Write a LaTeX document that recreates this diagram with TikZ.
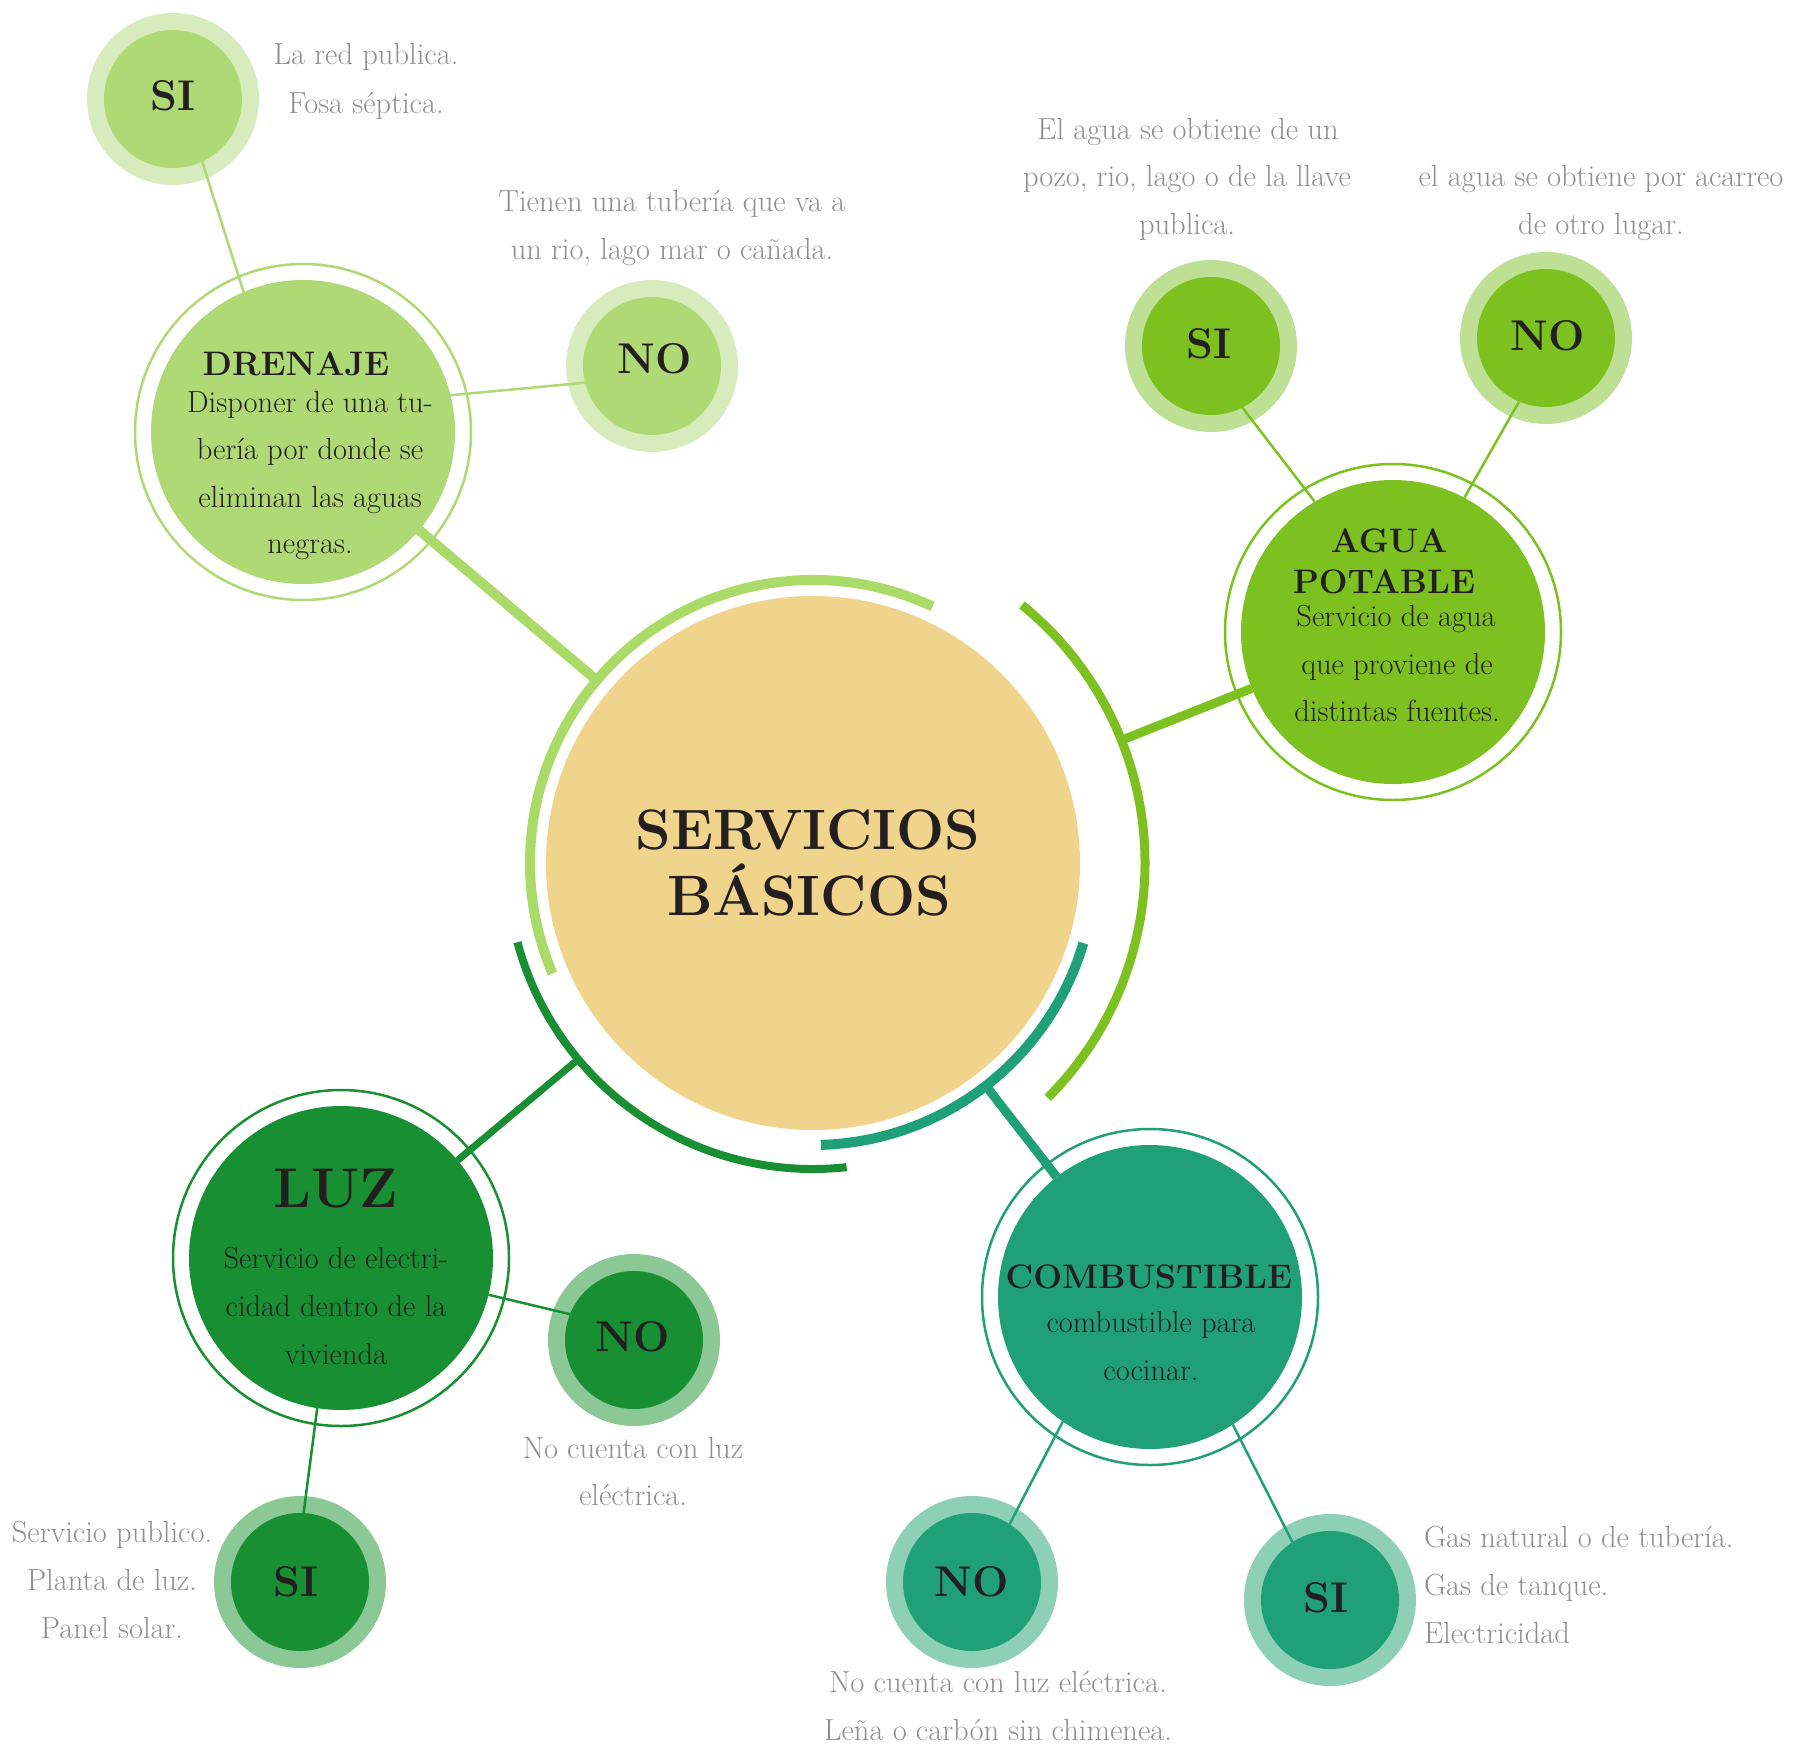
\documentclass[tikz,border=0pt]{standalone}
\usetikzlibrary{calc}
\definecolor{cenc}{HTML}{F0D48C}
\definecolor{drenc}{HTML}{AED974}
\definecolor{drenh}{HTML}{D6ECBC}
\definecolor{drenarc}{HTML}{AADB68}
\definecolor{aguac}{HTML}{7DC121}
\definecolor{aguah}{HTML}{BEE094}
\definecolor{luzc}{HTML}{178F32}
\definecolor{luzh}{HTML}{8CC896}
\definecolor{combc}{HTML}{20A077}
\definecolor{combh}{HTML}{8ECFB8}
\definecolor{greyc}{HTML}{8F8F8F}
\definecolor{darkc}{HTML}{231F20}
\begin{document}
\begin{tikzpicture}[x=1pt,y=-1pt,
  greytxt/.style={text=greyc, font=\fontsize{30.5}{34}\selectfont, anchor=base, inner sep=0, outer sep=0},
  bodytxt/.style={text=darkc, font=\fontsize{30.5}{34}\selectfont, anchor=base, inner sep=0, outer sep=0},
  titletxt/.style={text=darkc, font=\bfseries\fontsize{34}{38}\selectfont, anchor=base, inner sep=0, outer sep=0},
  yesno/.style={text=darkc, font=\bfseries\fontsize{43}{48}\selectfont, anchor=base, inner sep=0, outer sep=0},
  bigtxt/.style={text=darkc, font=\bfseries\fontsize{57}{62}\selectfont, anchor=base, inner sep=0, outer sep=0},
  maindisc/.style={circle, fill=#1, minimum size=304pt, inner sep=0, outer sep=0},
  smalldisc/.style 2 args={circle, fill=#1, minimum size=138pt, inner sep=0, outer sep=0, preaction={draw=#2, line width=34pt}},
  ringline/.style={draw=#1, line width=2.5pt},
  thinline/.style={draw=#1, line width=2.5pt},
  thickline/.style={draw=#1, line width=9pt},
  arcline/.style={draw=#1, line width=10pt}
]
\useasboundingbox (0,0) rectangle (1809,1745);

% central disc
\node[circle, fill=cenc, minimum size=534pt, inner sep=0, outer sep=0] (cen) at (813,863) {};

% arcs around the centre
\draw[arcline=drenarc] ([shift={(65:283pt)}]cen.center) arc[start angle=65, end angle=203, radius=283pt];
\draw[arcline=aguac, line width=9pt] ([shift={(51:332pt)}]cen.center) arc[start angle=51, end angle=-45, radius=332pt];
\draw[arcline=luzc, line width=8pt] ([shift={(195:306pt)}]cen.center) arc[start angle=195, end angle=276.3, radius=306pt];
\draw[arcline=combc] ([shift={(-16.5:282pt)}]cen.center) arc[start angle=-16.5, end angle=-88.4, radius=282pt];

\coordinate (aD) at ([shift={(139.8:283pt)}]cen.center);
\coordinate (aA) at ([shift={(21.7:332pt)}]cen.center);
\coordinate (aL) at ([shift={(219.9:306pt)}]cen.center);
\coordinate (aC) at ([shift={(-52.2:282pt)}]cen.center);

% main nodes
\node[maindisc=drenc] (dren) at (303,432) {};
\node[maindisc=aguac] (agua) at (1393,632) {};
\node[maindisc=luzc] (luz) at (341,1258) {};
\node[maindisc=combc] (comb) at (1150,1297) {};
\draw[ringline=drenc] (dren.center) circle[radius=168pt];
\draw[ringline=aguac] (agua.center) circle[radius=168pt];
\draw[ringline=luzc] (luz.center) circle[radius=168pt];
\draw[ringline=combc] (comb.center) circle[radius=168pt];

% small nodes
\node[smalldisc={drenc}{drenh}] (dsi) at (173,99) {};
\node[smalldisc={drenc}{drenh}] (dno) at (652,366) {};
\node[smalldisc={aguac}{aguah}] (asi) at (1211,346) {};
\node[smalldisc={aguac}{aguah}] (ano) at (1546,338) {};
\node[smalldisc={luzc}{luzh}] (lno) at (634,1340) {};
\node[smalldisc={luzc}{luzh}] (lsi) at (300,1582) {};
\node[smalldisc={combc}{combh}] (cno) at (972,1582) {};
\node[smalldisc={combc}{combh}] (csi) at (1330,1600) {};

% thick connectors
\draw[thickline=drenarc, line width=10pt] (aD) -- (dren);
\draw[thickline=aguac] (aA) -- (agua);
\draw[thickline=luzc, line width=7pt] (aL) -- (luz);
\draw[thickline=combc] (aC) -- (comb);

% thin connectors
\draw[thinline=drenc] (dsi.-65) -- (dren.113);
\draw[thinline=drenc] (dren.14) -- (dno.194);
\draw[thinline=aguac] (asi.-63) -- (agua.121);
\draw[thinline=aguac] (ano.247) -- (agua.62);
\draw[thinline=luzc] (luz.-14) -- (lno.158);
\draw[thinline=luzc] (luz.261) -- (lsi.87);
\draw[thinline=combc] (comb.235) -- (cno.57);
\draw[thinline=combc] (comb.-57.5) -- (csi.123);

% centre text
\node[bigtxt] (c1) at (808,849) {SERVICIOS};
\node[bigtxt] (c2) at (809,915) {BÁSICOS};

% DRENAJE
\node[titletxt] (dt) at (296,375) {DRENAJE};
\node[bodytxt] (db1) at (310,412) {Disponer de una tu-};
\node[bodytxt] (db2) at (310,459) {bería por donde se};
\node[bodytxt] (db3) at (310,507) {eliminan las aguas};
\node[bodytxt] (db4) at (310,553) {negras.};
\node[yesno] (dsit) at (173,110) {SI};
\node[yesno] (dnot) at (655,373) {NO};
\node[greytxt] (dg1) at (366,65) {La red publica.};
\node[greytxt] (dg2) at (366,113) {Fosa séptica.};
\node[greytxt] (dg3) at (672,211) {Tienen una tubería que va a};
\node[greytxt] (dg4) at (672,259) {un rio, lago mar o cañada.};

% AGUA POTABLE
\node[titletxt] (at1) at (1389,552) {AGUA};
\node[titletxt] (at2) at (1384,593) {POTABLE};
\node[bodytxt] (ab1) at (1396,626) {Servicio de agua};
\node[bodytxt] (ab2) at (1397,674) {que proviene de};
\node[bodytxt] (ab3) at (1397,721) {distintas fuentes.};
\node[yesno] (asit) at (1209,358) {SI};
\node[yesno] (anot) at (1548,350) {NO};
\node[greytxt] (ag1) at (1188,139) {El agua se obtiene de un};
\node[greytxt] (ag2) at (1187,186) {pozo, rio, lago o de la llave};
\node[greytxt] (ag3) at (1187,234) {publica.};
\node[greytxt] (ag4) at (1601,186) {el agua se obtiene por acarreo};
\node[greytxt] (ag5) at (1601,234) {de otro lugar.};

% LUZ
\node[text=darkc, font=\bfseries\fontsize{56}{60}\selectfont, anchor=base, inner sep=0] (lt) at (336,1207) {LUZ};
\node[bodytxt] (lb1) at (336,1268) {Servicio de electri-};
\node[bodytxt] (lb2) at (336,1316) {cidad dentro de la};
\node[bodytxt] (lb3) at (336,1364) {vivienda};
\node[yesno] (lnot) at (633,1351) {NO};
\node[yesno] (lsit) at (296,1596) {SI};
\node[greytxt] (lg1) at (633,1458) {No cuenta con luz};
\node[greytxt] (lg2) at (633,1505) {eléctrica.};
\node[greytxt] (lg3) at (112,1542) {Servicio publico.};
\node[greytxt] (lg4) at (112,1590) {Planta de luz.};
\node[greytxt] (lg5) at (112,1638) {Panel solar.};

% COMBUSTIBLE
\node[titletxt] (ct) at (1149,1288) {COMBUSTIBLE};
\node[bodytxt] (cb1) at (1151,1332) {combustible para};
\node[bodytxt] (cb2) at (1151,1380) {cocinar.};
\node[yesno] (cnot) at (972,1596) {NO};
\node[yesno] (csit) at (1326,1612) {SI};
\node[greytxt, anchor=base west] (cg1) at (1424,1547) {Gas natural o de tubería.};
\node[greytxt, anchor=base west] (cg2) at (1424,1595) {Gas de tanque.};
\node[greytxt, anchor=base west] (cg3) at (1424,1643) {Electricidad};
\node[greytxt] (cg4) at (998,1692) {No cuenta con luz eléctrica.};
\node[greytxt] (cg5) at (998,1740) {Leña o carbón sin chimenea.};
\end{tikzpicture}
\end{document}
